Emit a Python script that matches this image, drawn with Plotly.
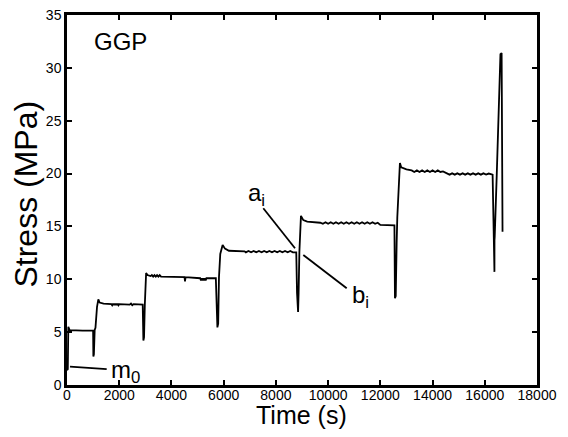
import plotly.graph_objects as go

# Time (s) and stress (MPa)
time_s = [0, 30, 50, 70, 100, 600, 1000, 1010, 1030, 1060, 1090, 1150, 1200, 1250, 1400,
          1700, 1730, 1760, 1790, 1820, 1850, 1880, 1910, 1940, 1970, 2000, 2400, 2450, 2500, 2550,
          2900, 2925, 2950, 2980, 3030, 3080,
          3200, 3250, 3300, 3350, 3400, 3450, 3500, 3550, 3600, 4500, 4520, 4540,
          5100, 5130, 5160, 5190, 5220, 5250, 5280, 5310, 5340, 5400, 5700,
          5760, 5790, 5820, 5870, 5960, 6050, 6200, 6800,
          6850, 6950, 7050, 7150, 7250, 7350, 7450, 7550, 7650, 7750, 7850, 7950, 8050, 8150,
          8250, 8350, 8450, 8550, 8650, 8780,
          8810, 8850, 8870, 8900, 8960, 9050, 9200, 9700,
          9800, 9900, 10000, 10100, 10200, 10300, 10400, 10500, 10600, 10700, 10800, 10900,
          11000, 11100, 11200, 11300, 11400, 11500, 11600, 11700, 11800, 11900, 12000, 12100,
          12540, 12560, 12590, 12625, 12650, 12750, 12800, 13000, 13200,
          13300, 13400, 13500, 13600, 13700, 13800, 13900, 14000, 14100, 14200, 14300, 14400,
          14650, 14750, 14850, 14950, 15050, 15150, 15250, 15350, 15450, 15550, 15650, 15750,
          15850, 15950, 16050, 16150, 16300,
          16330, 16370, 16372, 16380, 16460, 16520, 16600, 16645, 16670, 16680]
stress_mpa = [1.4, 1.5, 5.5, 5.3, 5.2, 5.15, 5.15, 2.7, 2.9, 5.2, 5.4, 7.4, 8.1, 7.8, 7.7,
              7.65, 7.55, 7.7, 7.55, 7.7, 7.55, 7.7, 7.55, 7.7, 7.55, 7.65, 7.6, 7.7, 7.55, 7.65,
              7.6, 4.2, 4.5, 7.6, 10.6, 10.4,
              10.3, 10.4, 10.25, 10.4, 10.25, 10.4, 10.25, 10.4, 10.25, 10.2, 9.8, 10.2,
              10.1, 9.9, 10.1, 9.9, 10.1, 9.9, 10.1, 9.9, 10.1, 10.1, 10.1,
              5.45, 5.8, 10.2, 12.4, 13.25, 12.9, 12.7, 12.65,
              12.55, 12.68, 12.55, 12.68, 12.55, 12.68, 12.55, 12.68, 12.55, 12.68, 12.55, 12.68,
              12.55, 12.68, 12.55, 12.68, 12.55, 12.68, 12.55, 12.55,
              8.7, 6.9, 8.7, 12.6, 16.0, 15.6, 15.45, 15.35,
              15.25, 15.4, 15.25, 15.4, 15.25, 15.4, 15.25, 15.4, 15.25, 15.4, 15.25, 15.4,
              15.25, 15.4, 15.25, 15.4, 15.25, 15.4, 15.25, 15.4, 15.25, 15.35, 15.15, 15.15,
              15.1, 8.2, 8.4, 13.4, 15.9, 21.0, 20.6, 20.4, 20.3,
              20.15, 20.3, 20.15, 20.3, 20.15, 20.3, 20.15, 20.3, 20.15, 20.3, 20.15, 20.2,
              19.9, 20.02, 19.9, 20.02, 19.9, 20.02, 19.9, 20.02, 19.9, 20.02, 19.9, 20.02,
              19.9, 20.02, 19.9, 20.0, 19.9,
              14.0, 10.7, 13.7, 14.0, 20.0, 25.1, 31.3, 31.4, 20.0, 14.5]

x_ticks = [0, 2000, 4000, 6000, 8000, 10000, 12000, 14000, 16000, 18000]
y_ticks = [0, 5, 10, 15, 20, 25, 30, 35]

FONT = "Liberation Sans, Arial, Helvetica, sans-serif"

fig = go.Figure()
fig.add_trace(go.Scatter(x=time_s, y=stress_mpa, mode="lines",
                         line=dict(color="black", width=1.8), showlegend=False,
                         hoverinfo="skip"))

axis_common = dict(showline=True, linecolor="black", linewidth=2.5, mirror="ticks",
                   ticks="inside", ticklen=5, tickwidth=2, tickcolor="black",
                   showgrid=False, zeroline=False, automargin=False,
                   tickfont=dict(family=FONT, size=14, color="black"))

fig.update_xaxes(range=[0, 18000], tickvals=x_ticks, ticktext=[str(v) for v in x_ticks],
                 ticklabelstandoff=-5, **axis_common)
fig.update_yaxes(range=[0, 35], tickvals=y_ticks, **axis_common)

# axis titles
fig.add_annotation(xref="paper", yref="paper", x=0.499, y=-0.08, text="Time (s)",
                   showarrow=False, xanchor="center", yanchor="middle",
                   font=dict(family=FONT, size=25, color="black"))
fig.add_annotation(xref="paper", yref="paper", x=-0.087, y=0.515, text="Stress (MPa)",
                   showarrow=False, xanchor="center", yanchor="middle", textangle=-90,
                   font=dict(family=FONT, size=32, color="black"))

# leader lines for labels
for x0, y0, x1, y1 in [(115, 1.73, 1520, 1.51), (7518, 16.72, 8732, 12.93),
                       (9050, 12.3, 10712, 9.15)]:
    fig.add_shape(type="line", x0=x0, y0=y0, x1=x1, y1=y1, xref="x", yref="y",
                  line=dict(color="black", width=1.8))

ann_font = dict(family=FONT, size=24, color="black")
fig.add_annotation(x=960, y=32.5, text="GGP", showarrow=False, xanchor="left",
                   yanchor="middle", font=ann_font)
fig.add_annotation(x=1600, y=1.3, text="m<sub>0</sub>", showarrow=False, xanchor="left",
                   yanchor="middle", font=ann_font)
fig.add_annotation(x=6850, y=18.0, text="a<sub>i</sub>", showarrow=False, xanchor="left",
                   yanchor="middle", font=ann_font)
fig.add_annotation(x=10850, y=8.4, text="b<sub>i</sub>", showarrow=False, xanchor="left",
                   yanchor="middle", font=ann_font)

fig.update_layout(width=568, height=437, margin=dict(l=67, r=31, t=15, b=52),
                  paper_bgcolor="white", plot_bgcolor="white",
                  font=dict(family=FONT, color="black"))

fig.write_html("out.html", config={"displayModeBar": False},
               post_script="document.body.style.margin='0';document.body.style.overflow='hidden';")
